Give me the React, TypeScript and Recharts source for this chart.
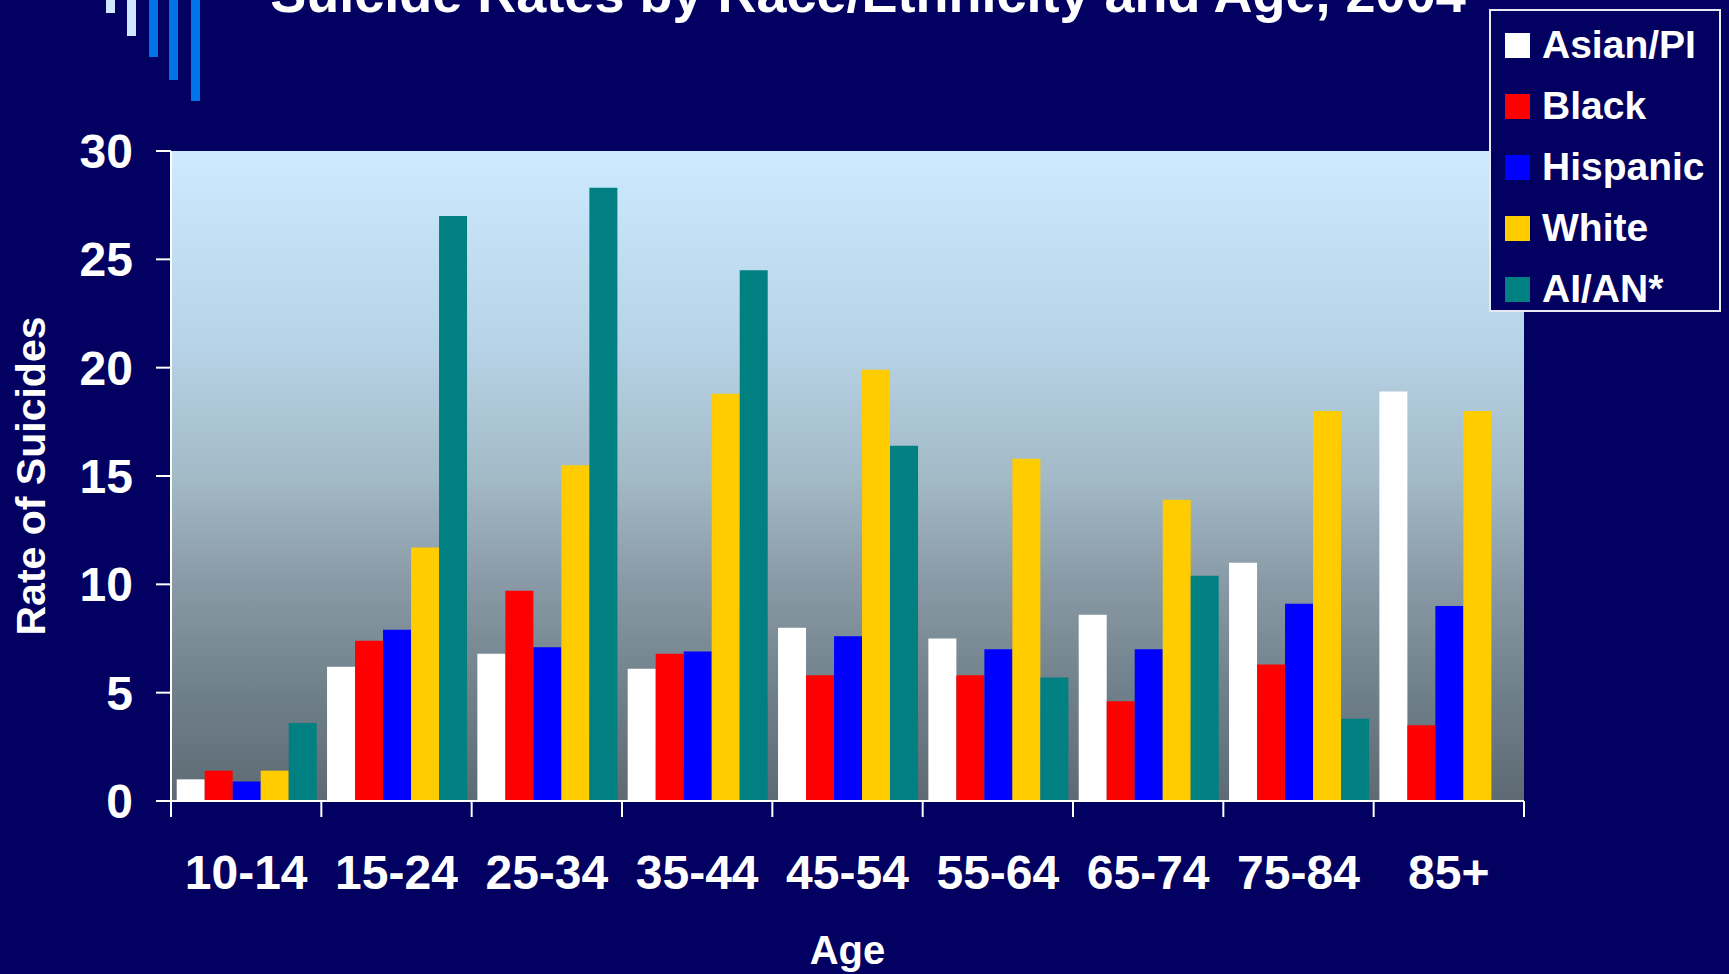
import { BarChart, Bar, XAxis, YAxis, CartesianGrid, Legend } from 'recharts';

const ages = ['10-14', '15-24', '25-34', '35-44', '45-54', '55-64', '65-74', '75-84', '85+'];

const asianPI = [1.0, 6.2, 6.8, 6.1, 8.0, 7.5, 8.6, 11.0, 18.9];
const black = [1.4, 7.4, 9.7, 6.8, 5.8, 5.8, 4.6, 6.3, 3.5];
const hispanic = [0.9, 7.9, 7.1, 6.9, 7.6, 7.0, 7.0, 9.1, 9.0];
const white = [1.4, 11.7, 15.5, 18.8, 19.9, 15.8, 13.9, 18.0, 18.0];
const aian = [3.6, 27.0, 28.3, 24.5, 16.4, 5.7, 10.4, 3.8, null];

const yTicks = [0, 5, 10, 15, 20, 25, 30];

const SERIES = [
  { key: 'asian', name: 'Asian/PI', color: '#ffffff', values: asianPI },
  { key: 'black', name: 'Black', color: '#ff0000', values: black },
  { key: 'hispanic', name: 'Hispanic', color: '#0000ff', values: hispanic },
  { key: 'white', name: 'White', color: '#ffcc00', values: white },
  { key: 'aian', name: 'AI/AN*', color: '#008080', values: aian },
];

const NAVY = '#020060';
const FONT = '"Liberation Sans", Arial, Helvetica, sans-serif';

// table for recharts, one row per age group
const data = ages.map((age, i) => {
  const row: Record<string, any> = { age };
  SERIES.forEach((s) => {
    row[s.key] = s.values[i];
  });
  return row;
});

// top-left slide decoration
const DECO = [
  { x: 106, h: 13, c: '#cfe8ff' },
  { x: 127, h: 36, c: '#cfe8ff' },
  { x: 149, h: 57, c: '#0074e8' },
  { x: 169, h: 80, c: '#0074e8' },
  { x: 191, h: 101, c: '#0074e8' },
];

function AgeTick(props: any) {
  const { x, y, payload, index } = props;
  const half = payload.offset || 0;
  const last = index === ages.length - 1;
  return (
    <g>
      <line x1={x - half} y1={y} x2={x - half} y2={y + 16} stroke="#ffffff" strokeWidth={2} />
      {last && <line x1={x + half} y1={y} x2={x + half} y2={y + 16} stroke="#ffffff" strokeWidth={2} />}
      <text x={x} y={y + 88} textAnchor="middle" fill="#ffffff" fontSize={48} fontWeight="bold" fontFamily={FONT}>
        {payload.value}
      </text>
    </g>
  );
}

function LegendBox() {
  return (
    <div
      style={{
        width: 232,
        height: 303,
        boxSizing: 'border-box',
        border: '2px solid #e8e8f4',
        background: NAVY,
        position: 'relative',
        fontFamily: FONT,
      }}
    >
      {SERIES.map((s, i) => (
        <div
          key={s.key}
          style={{
            position: 'absolute',
            left: 14,
            top: 13 + i * 61,
            height: 42,
            display: 'flex',
            alignItems: 'center',
          }}
        >
          <span style={{ width: 25, height: 25, background: s.color, display: 'inline-block' }} />
          <span style={{ marginLeft: 12, color: '#ffffff', fontSize: 39, fontWeight: 'bold', lineHeight: '42px' }}>
            {s.name}
          </span>
        </div>
      ))}
    </div>
  );
}

export default function App() {
  return (
    <div style={{ position: 'fixed', left: 0, top: 0, width: 1729, height: 974, background: NAVY, overflow: 'hidden' }}>
      <svg width={1729} height={974} style={{ position: 'absolute', left: 0, top: 0 }}>
        {DECO.map((d, i) => (
          <rect key={i} x={d.x} y={0} width={9} height={d.h} fill={d.c} />
        ))}
        <text x={868} y={12} textAnchor="middle" fill="#ffffff" fontSize={54} fontWeight="bold" fontFamily={FONT}>
          Suicide Rates by Race/Ethnicity and Age, 2004
        </text>
      </svg>
      <div style={{ position: 'absolute', left: 0, top: 0 }}>
        <BarChart
          width={1729}
          height={974}
          data={data}
          margin={{ top: 151, right: 205, bottom: 53, left: 25 }}
          barCategoryGap="3.8%"
          barGap={0}
        >
          <defs>
            <linearGradient id="plotBg" x1="0" y1="0" x2="0" y2="1">
              <stop offset="0%" stopColor="#cdeafe" />
              <stop offset="30%" stopColor="#b7d3e6" />
              <stop offset="50%" stopColor="#a3bac7" />
              <stop offset="67%" stopColor="#8899a5" />
              <stop offset="84%" stopColor="#6f7f89" />
              <stop offset="100%" stopColor="#5d6a74" />
            </linearGradient>
          </defs>
          <CartesianGrid fill="url(#plotBg)" horizontal={false} vertical={false} />
          <XAxis
            dataKey="age"
            height={120}
            axisLine={{ stroke: '#ffffff', strokeWidth: 2 }}
            tickLine={false}
            tickSize={0}
            tickMargin={0}
            interval={0}
            tick={<AgeTick />}
            label={{
              value: 'Age',
              position: 'bottom',
              offset: 15,
              fill: '#ffffff',
              fontSize: 40,
              fontWeight: 'bold',
              fontFamily: FONT,
            }}
          />
          <YAxis
            width={146}
            domain={[0, 30]}
            ticks={yTicks}
            interval={0}
            axisLine={{ stroke: '#ffffff', strokeWidth: 2 }}
            tickLine={{ stroke: '#ffffff', strokeWidth: 2 }}
            tickSize={15}
            tickMargin={23}
            tick={{ fill: '#ffffff', fontSize: 48, fontWeight: 'bold', fontFamily: FONT }}
            label={{
              value: 'Rate of Suicides',
              angle: -90,
              position: 'insideLeft',
              offset: 5,
              fill: '#ffffff',
              fontSize: 41,
              fontWeight: 'bold',
              fontFamily: FONT,
              style: { textAnchor: 'middle' },
            }}
          />
          {SERIES.map((s) => (
            <Bar key={s.key} dataKey={s.key} name={s.name} fill={s.color} isAnimationActive={false} />
          ))}
          <Legend
            layout="vertical"
            align="center"
            verticalAlign="middle"
            wrapperStyle={{ position: 'absolute', left: 1489, top: 9, width: 232, height: 303 }}
            content={<LegendBox />}
          />
        </BarChart>
      </div>
    </div>
  );
}
